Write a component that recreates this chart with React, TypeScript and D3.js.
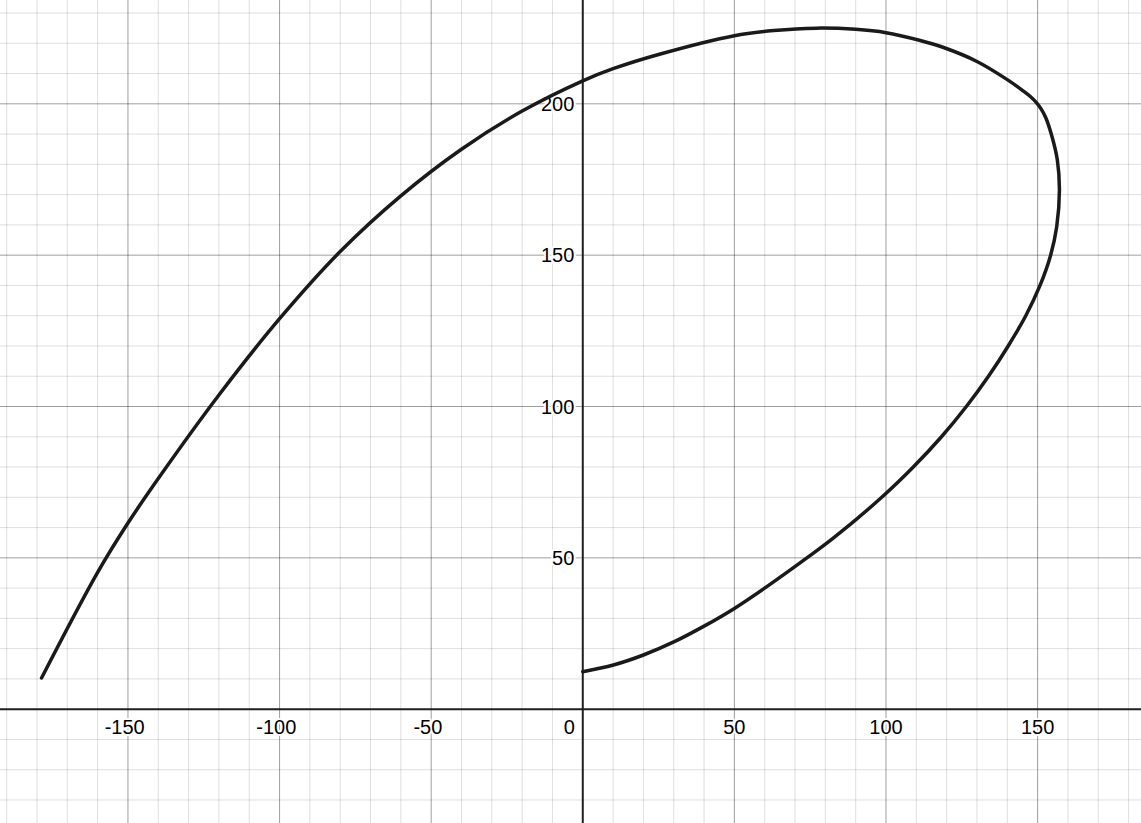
import React from 'react';
import * as d3 from 'd3';

// Plot points, in drawing order
const curveX = [
  -178.5, -160, -150, -140, -120, -100, -80, -60, -40, -20, 0, 10, 25, 50, 63, 77, 90, 100, 111, 119, 130, 140,
  145.2, 147.6, 149.6, 151.3, 152.7, 154.6, 156.5, 157.2, 156.3, 154.3, 150.8, 146.1, 140.3, 133.8, 126.5, 118.3,
  109, 98.6, 82.6, 73.8, 60.7, 50, 40.3, 30.2, 20, 10.1, 0,
];
const curveY = [
  10.3, 45.2, 61.5, 76.2, 103.8, 129, 151.2, 169.6, 185, 197.6, 207.6, 211.6, 216.3, 222.5, 224.2, 225, 224.6,
  223.5, 221, 218.6, 214, 208, 204.3, 202.4, 200.4, 198.1, 195.4, 189.7, 181.5, 171.6, 159.4, 150, 140, 130, 120,
  110, 100, 90, 80, 70, 56.5, 49.9, 40.5, 33.3, 27.6, 22.3, 17.9, 14.6, 12.4,
];

const xTickLabels = [-150, -100, -50, 50, 100, 150];
const yTickLabels = [50, 100, 150, 200];

const width = 1141;
const height = 823;
const font = '"Liberation Sans", Arial, sans-serif';

const App: React.FC = () => {
  const x = d3.scaleLinear().domain([-192.2, 184.1]).range([0, width]);
  const y = d3.scaleLinear().domain([-37.6, 234.3]).range([height, 0]);

  // grid every 10 units, darker every 50
  const xGrid = d3.range(-190, 190, 10);
  const yGrid = d3.range(-30, 240, 10);

  const points: [number, number][] = curveX.map((v, i) => [v, curveY[i]]);
  const line = d3
    .line<[number, number]>()
    .x(d => x(d[0]))
    .y(d => y(d[1]))
    .curve(d3.curveCatmullRom.alpha(0.5));

  const x0 = x(0);
  const y0 = y(0);

  return (
    <svg
      width={width}
      height={height}
      style={{ position: 'absolute', left: 0, top: 0, background: '#fff' }}
    >
      {/* minor grid */}
      <g stroke="#000" strokeOpacity={0.13} strokeWidth={1}>
        {xGrid.filter(v => v % 50 !== 0).map(v => (
          <line key={'mx' + v} x1={x(v)} x2={x(v)} y1={0} y2={height} />
        ))}
        {yGrid.filter(v => v % 50 !== 0).map(v => (
          <line key={'my' + v} x1={0} x2={width} y1={y(v)} y2={y(v)} />
        ))}
      </g>
      {/* major grid */}
      <g stroke="#000" strokeOpacity={0.38} strokeWidth={1}>
        {xGrid.filter(v => v % 50 === 0 && v !== 0).map(v => (
          <line key={'Mx' + v} x1={x(v)} x2={x(v)} y1={0} y2={height} />
        ))}
        {yGrid.filter(v => v % 50 === 0 && v !== 0).map(v => (
          <line key={'My' + v} x1={0} x2={width} y1={y(v)} y2={y(v)} />
        ))}
      </g>
      {/* axes */}
      <g stroke="#1f1f1f" strokeWidth={2}>
        <line x1={0} x2={width} y1={y0} y2={y0} />
        <line x1={x0} x2={x0} y1={0} y2={height} />
      </g>

      {/* labels */}
      <g
        fontFamily={font}
        fontSize={20}
        fill="#000"
        stroke="#fff"
        strokeWidth={4}
        strokeLinejoin="round"
        style={{ paintOrder: 'stroke' }}
      >
        {xTickLabels.map(v => (
          <text key={'xl' + v} x={x(v) - (v < 0 ? 3.3 : 0)} y={y0 + 25} textAnchor="middle">
            {v}
          </text>
        ))}
        <text x={x0 - 8} y={y0 + 25} textAnchor="end">
          0
        </text>
        {yTickLabels.map(v => (
          <text key={'yl' + v} x={x0 - 8.5} y={y(v)} dy="0.35em" textAnchor="end">
            {v}
          </text>
        ))}
      </g>

      {/* curve */}
      <path
        d={line(points) || ''}
        fill="none"
        stroke="#1a1a1a"
        strokeWidth={3.5}
        strokeLinecap="round"
        strokeLinejoin="round"
      />
    </svg>
  );
};

export default App;
